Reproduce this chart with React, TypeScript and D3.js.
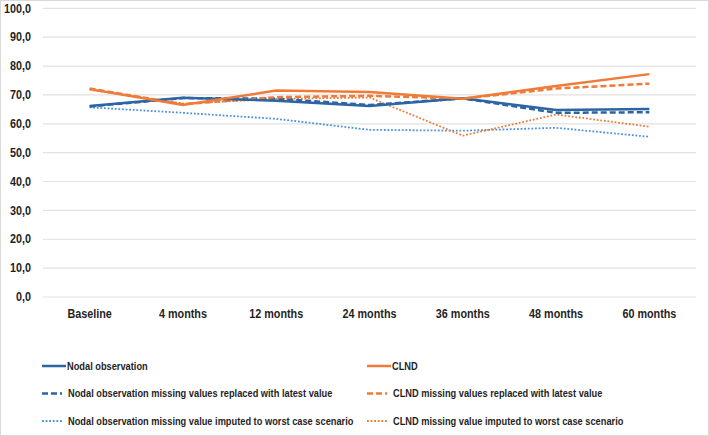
import * as d3 from "d3";
import { useEffect, useRef } from "react";

const categories = ["Baseline", "4 months", "12 months", "24 months", "36 months", "48 months", "60 months"];

const nodalObs = [66.2, 69.0, 68.0, 66.2, 68.8, 64.8, 65.1];
const clnd = [72.0, 66.5, 71.5, 71.0, 68.7, 73.1, 77.2];
const nodalLatest = [66.0, 68.9, 68.7, 66.5, 68.8, 63.8, 64.0];
const clndLatest = [72.2, 66.8, 69.2, 69.7, 68.7, 72.2, 73.9];
const nodalWorst = [65.7, 63.8, 61.7, 57.9, 57.6, 58.6, 55.5];
const clndWorst = [71.8, 67.0, 68.6, 69.1, 55.9, 63.2, 59.0];

const yTicks = [0, 10, 20, 30, 40, 50, 60, 70, 80, 90, 100];

const seriesNames = [
  "Nodal observation",
  "CLND",
  "Nodal observation missing values replaced with latest value",
  "CLND missing values replaced with latest value",
  "Nodal observation missing value imputed to worst case scenario",
  "CLND missing value imputed to worst case scenario",
];

const BLUE = "#2b65a3";
const ORANGE = "#f07a37";
const LIGHT_BLUE = "#4a93dc";

type Series = { name: string; values: number[]; color: string; width: number; dash: string | null };

export default function App() {
  const svgRef = useRef<SVGSVGElement | null>(null);

  useEffect(() => {
    const width = 709;
    const height = 436;
    const font = "'Liberation Sans', Arial, sans-serif";
    const squeeze = 0.9; // the original font is a narrow one

    const svg = d3.select(svgRef.current)
        .attr("width", width)
        .attr("height", height);
    svg.selectAll("*").remove();

    svg.append("rect")
        .attr("x", 0.5).attr("y", 0.5)
        .attr("width", width - 1).attr("height", height - 1)
        .attr("fill", "#fff")
        .attr("stroke", "#d9d9d9");

    const x = d3.scaleBand<string>().domain(categories).range([43, 696]);
    const y = d3.scaleLinear().domain([0, 100]).range([297, 8.3]);

    // gridlines
    svg.append("g").selectAll("line")
        .data(yTicks)
        .enter().append("line")
        .attr("x1", 43).attr("x2", 696)
        .attr("y1", d => y(d)).attr("y2", d => y(d))
        .attr("stroke", "#e1e1e1")
        .attr("stroke-width", 1.2);

    // y tick labels
    svg.append("g").selectAll("text")
        .data(yTicks)
        .enter().append("text")
        .attr("transform", d => `translate(31,${y(d)}) scale(${squeeze},1)`)
        .attr("dy", "0.35em")
        .attr("text-anchor", "end")
        .attr("font-family", font)
        .attr("font-weight", "bold")
        .attr("font-size", 12)
        .attr("fill", "#1f1f1f")
        .text(d => d3.format(".1f")(d).replace(".", ","));

    // x tick labels
    svg.append("g").selectAll("text")
        .data(categories)
        .enter().append("text")
        .attr("transform", d => `translate(${(x(d) ?? 0) + x.bandwidth() / 2},317.5) scale(${squeeze},1)`)
        .attr("text-anchor", "middle")
        .attr("font-family", font)
        .attr("font-weight", "bold")
        .attr("font-size", 12)
        .attr("fill", "#1f1f1f")
        .text(d => d);

    const series: Series[] = [
      { name: seriesNames[0], values: nodalObs, color: BLUE, width: 2.5, dash: null },
      { name: seriesNames[1], values: clnd, color: ORANGE, width: 2.5, dash: null },
      { name: seriesNames[2], values: nodalLatest, color: BLUE, width: 2.5, dash: "6,3" },
      { name: seriesNames[3], values: clndLatest, color: ORANGE, width: 2.5, dash: "6,3" },
      { name: seriesNames[4], values: nodalWorst, color: LIGHT_BLUE, width: 1.8, dash: "1.8,1.8" },
      { name: seriesNames[5], values: clndWorst, color: ORANGE, width: 1.8, dash: "1.8,1.8" },
    ];

    const line = d3.line<number>()
        .x((_, i) => (x(categories[i]) ?? 0) + x.bandwidth() / 2)
        .y(d => y(d));

    const drawOrder = [4, 5, 2, 3, 0, 1];
    svg.append("g").selectAll("path")
        .data(drawOrder.map(i => series[i]))
        .enter().append("path")
        .attr("d", d => line(d.values))
        .attr("fill", "none")
        .attr("stroke", d => d.color)
        .attr("stroke-width", d => d.width)
        .attr("stroke-dasharray", d => d.dash ?? null);

    // legend
    const legendPos = series.map((_, i) => ({
      x: i % 2 === 0 ? 42 : 367,
      y: 366 + Math.floor(i / 2) * 27.5,
    }));

    const leg = svg.append("g").selectAll("g")
        .data(series)
        .enter().append("g")
        .attr("transform", (_, i) => `translate(${legendPos[i].x},${legendPos[i].y})`);

    leg.append("line")
        .attr("x1", 0)
        .attr("x2", d => d.dash ? 20 : 24)
        .attr("y1", 0).attr("y2", 0)
        .attr("stroke", d => d.color)
        .attr("stroke-width", d => d.width)
        .attr("stroke-dasharray", d => d.dash ?? null);

    leg.append("text")
        .attr("transform", d => `translate(${d.dash ? 26 : 25},0) scale(${squeeze},1)`)
        .attr("dy", "0.35em")
        .attr("font-family", font)
        .attr("font-weight", "bold")
        .attr("font-size", 10.3)
        .attr("fill", "#1f1f1f")
        .text(d => d.name);
  }, []);

  return (
      <svg ref={svgRef} style={{ position: "absolute", left: 0, top: 0 }}></svg>
  );
}
